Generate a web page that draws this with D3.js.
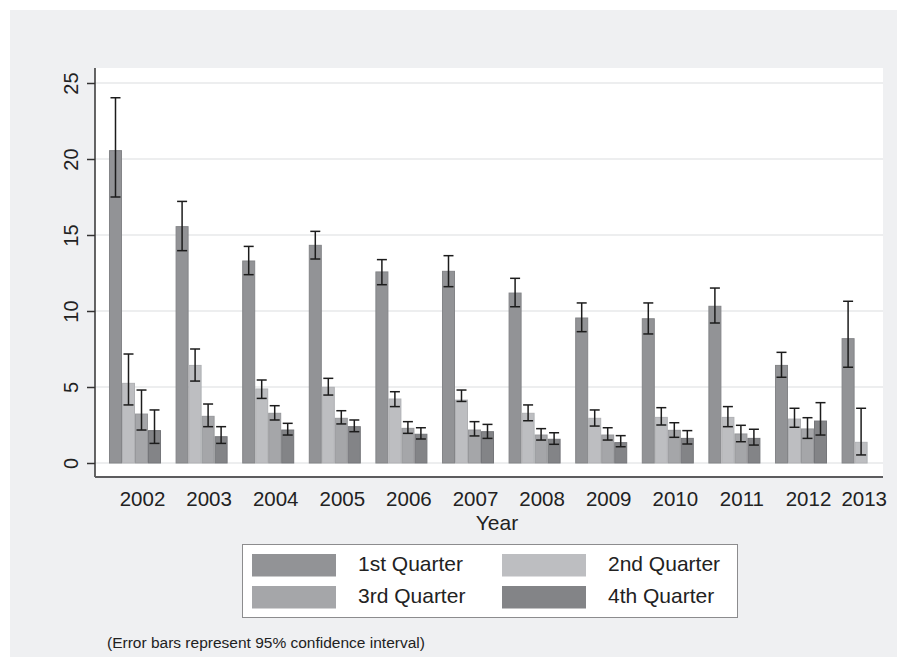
<!DOCTYPE html>
<html>
<head>
<meta charset="utf-8">
<script src="https://cdn.jsdelivr.net/npm/d3@7"></script>
<style>
  html, body { margin: 0; padding: 0; background: #ffffff; }
  svg { display: block; font-family: "Liberation Sans", Arial, Helvetica, sans-serif; }
</style>
</head>
<body>
<svg id="chart" width="897" height="659"></svg>
<script>
// ---------------- data ----------------
const years = ["2002","2003","2004","2005","2006","2007","2008","2009","2010","2011","2012","2013"];
const quarters = ["1st Quarter","2nd Quarter","3rd Quarter","4th Quarter"];

const q1Mean = [20.55, 15.55, 13.29, 14.32, 12.57, 12.61, 11.18, 9.54, 9.49, 10.31, 6.42, 8.18];
const q1Low  = [17.50, 13.97, 12.39, 13.42, 11.73, 11.60, 10.28, 8.64, 8.49, 9.21, 5.64, 6.30];
const q1High = [24.03, 17.21, 14.25, 15.24, 13.38, 13.64, 12.15, 10.53, 10.53, 11.51, 7.28, 10.64];

const q2Mean = [5.24, 6.42, 4.87, 4.98, 4.21, 4.14, 3.27, 2.94, 3.00, 3.00, 2.89, 1.36];
const q2Low  = [3.82, 5.39, 4.25, 4.47, 3.71, 4.05, 2.78, 2.43, 2.50, 2.39, 2.35, 0.53];
const q2High = [7.17, 7.50, 5.46, 5.57, 4.69, 4.80, 3.82, 3.49, 3.64, 3.71, 3.60, 3.60];

const q3Mean = [3.22, 3.07, 3.27, 2.94, 2.28, 2.17, 1.84, 1.84, 2.15, 1.91, 2.24, null];
const q3Low  = [2.17, 2.39, 2.83, 2.57, 1.95, 1.78, 1.51, 1.51, 1.69, 1.40, 1.62, null];
const q3High = [4.80, 3.88, 3.77, 3.44, 2.72, 2.72, 2.26, 2.32, 2.65, 2.48, 2.98, null];

const q4Mean = [2.13, 1.73, 2.17, 2.39, 1.89, 2.06, 1.56, 1.34, 1.62, 1.62, 2.76, null];
const q4Low  = [1.29, 1.29, 1.84, 2.06, 1.58, 1.62, 1.23, 1.07, 1.25, 1.18, 1.84, null];
const q4High = [3.49, 2.39, 2.61, 2.83, 2.32, 2.54, 1.99, 1.80, 2.13, 2.22, 3.97, null];

const yTicks = [0, 5, 10, 15, 20, 25];
const xTitle = "Year";
const note = "(Error bars represent 95% confidence interval)";

const fills   = ["#929396", "#bdbec1", "#a5a6a9", "#838487"];
const strokes = ["#848588", "#b0b1b4", "#97989b", "#75767a"];

// ---------------- layout ----------------
const W = 897, H = 659;
const plot = { left: 95, right: 883, top: 68, bottom: 477 };

const svg = d3.select("#chart");

// backgrounds
svg.append("rect").attr("x", 0).attr("y", 0).attr("width", W).attr("height", H).attr("fill", "#ffffff");
svg.append("rect").attr("x", 10).attr("y", 10).attr("width", W - 10).attr("height", 647).attr("fill", "#eff0f2");
svg.append("rect").attr("x", plot.left).attr("y", plot.top)
   .attr("width", plot.right - plot.left).attr("height", plot.bottom - plot.top).attr("fill", "#ffffff");

// scales
const y = d3.scaleLinear().domain([0, 25]).range([463, 83]);

const step = 66.6;
const x = d3.scaleBand().domain(years)
  .range([101.7, 101.7 + step * years.length])
  .paddingInner(0.219).paddingOuter(0.1095);
const xq = d3.scaleBand().domain(quarters).range([0, x.bandwidth()]).padding(0);

// gridlines
svg.append("g").selectAll("line").data(yTicks).join("line")
  .attr("x1", plot.left).attr("x2", plot.right)
  .attr("y1", d => y(d)).attr("y2", d => y(d))
  .attr("stroke", "#e7e8ea").attr("stroke-width", 1.5);

// build records
const series = [
  { mean: q1Mean, low: q1Low, high: q1High },
  { mean: q2Mean, low: q2Low, high: q2High },
  { mean: q3Mean, low: q3Low, high: q3High },
  { mean: q4Mean, low: q4Low, high: q4High }
];
const records = [];
years.forEach((yr, i) => {
  series.forEach((s, qi) => {
    if (s.mean[i] != null) {
      records.push({ year: yr, q: quarters[qi], qi, mean: s.mean[i], low: s.low[i], high: s.high[i] });
    }
  });
});

// bars
svg.append("g").selectAll("rect").data(records).join("rect")
  .attr("x", d => x(d.year) + xq(d.q) + 0.5)
  .attr("y", d => y(d.mean))
  .attr("width", xq.bandwidth() - 1)
  .attr("height", d => y(0) - y(d.mean))
  .attr("fill", d => fills[d.qi])
  .attr("stroke", d => strokes[d.qi])
  .attr("stroke-width", 1);

// error bars
const eb = svg.append("g").attr("stroke", "#1c1c1c").attr("stroke-width", 1.5).attr("fill", "none");
const cx = d => x(d.year) + xq(d.q) + xq.bandwidth() / 2;
const capHalf = 5;
eb.selectAll("line.v").data(records).join("line").attr("class", "v")
  .attr("x1", cx).attr("x2", cx)
  .attr("y1", d => y(d.low)).attr("y2", d => y(d.high));
eb.selectAll("line.t").data(records).join("line").attr("class", "t")
  .attr("x1", d => cx(d) - capHalf).attr("x2", d => cx(d) + capHalf)
  .attr("y1", d => y(d.high)).attr("y2", d => y(d.high));
eb.selectAll("line.b").data(records).join("line").attr("class", "b")
  .attr("x1", d => cx(d) - capHalf).attr("x2", d => cx(d) + capHalf)
  .attr("y1", d => y(d.low)).attr("y2", d => y(d.low));

// y axis
const yAxis = d3.axisLeft(y).tickValues(yTicks).tickSize(8).tickPadding(0).tickFormat(d3.format("d"));
const gy = svg.append("g").attr("transform", `translate(${plot.left},0)`).call(yAxis);
gy.select(".domain").remove();
gy.selectAll(".tick line").attr("stroke", "#333").attr("stroke-width", 1.5);
gy.selectAll(".tick text")
  .attr("x", null).attr("dy", null)
  .attr("transform", "translate(-17,0) rotate(-90)")
  .attr("text-anchor", "middle")
  .attr("font-size", 20)
  .attr("fill", "#222");
svg.append("line").attr("x1", plot.left).attr("x2", plot.left)
  .attr("y1", plot.top).attr("y2", plot.bottom)
  .attr("stroke", "#333").attr("stroke-width", 1.5);

// x axis
svg.append("line").attr("x1", plot.left).attr("x2", plot.right)
  .attr("y1", plot.bottom).attr("y2", plot.bottom)
  .attr("stroke", "#5c5c5e").attr("stroke-width", 2);

const xl = svg.append("g").selectAll("text").data(years).join("text")
  .attr("x", d => x(d) + x.bandwidth() / 2 + 7.5)
  .attr("y", 506)
  .attr("text-anchor", "middle")
  .attr("font-size", 20.5)
  .attr("fill", "#222")
  .text(d => d);
// keep the last labels inside the graph region
xl.each(function() {
  const bb = this.getBBox();
  const maxRight = 887;
  if (bb.x + bb.width > maxRight) {
    d3.select(this).attr("x", +d3.select(this).attr("x") - (bb.x + bb.width - maxRight));
  }
});

svg.append("text").attr("x", 497).attr("y", 530).attr("text-anchor", "middle")
  .attr("font-size", 21).attr("fill", "#222").text(xTitle);

// legend
const lg = svg.append("g");
lg.append("rect").attr("x", 242.5).attr("y", 544.5).attr("width", 495).attr("height", 73)
  .attr("fill", "#ffffff").attr("stroke", "#8c8c8e").attr("stroke-width", 1);
const legPos = [
  { sx: 252, sy: 554, tx: 358, ty: 571 },
  { sx: 502, sy: 554, tx: 608, ty: 571 },
  { sx: 252, sy: 586, tx: 358, ty: 603 },
  { sx: 502, sy: 586, tx: 608, ty: 603 }
];
quarters.forEach((q, i) => {
  const p = legPos[i];
  lg.append("rect").attr("x", p.sx).attr("y", p.sy).attr("width", 84).attr("height", 22.5)
    .attr("fill", fills[i]);
  lg.append("text").attr("x", p.tx).attr("y", p.ty).attr("font-size", 21).attr("fill", "#222").text(q);
});

// note
svg.append("text").attr("x", 107).attr("y", 648).attr("font-size", 15.5).attr("fill", "#222").text(note);
</script>
</body>
</html>
